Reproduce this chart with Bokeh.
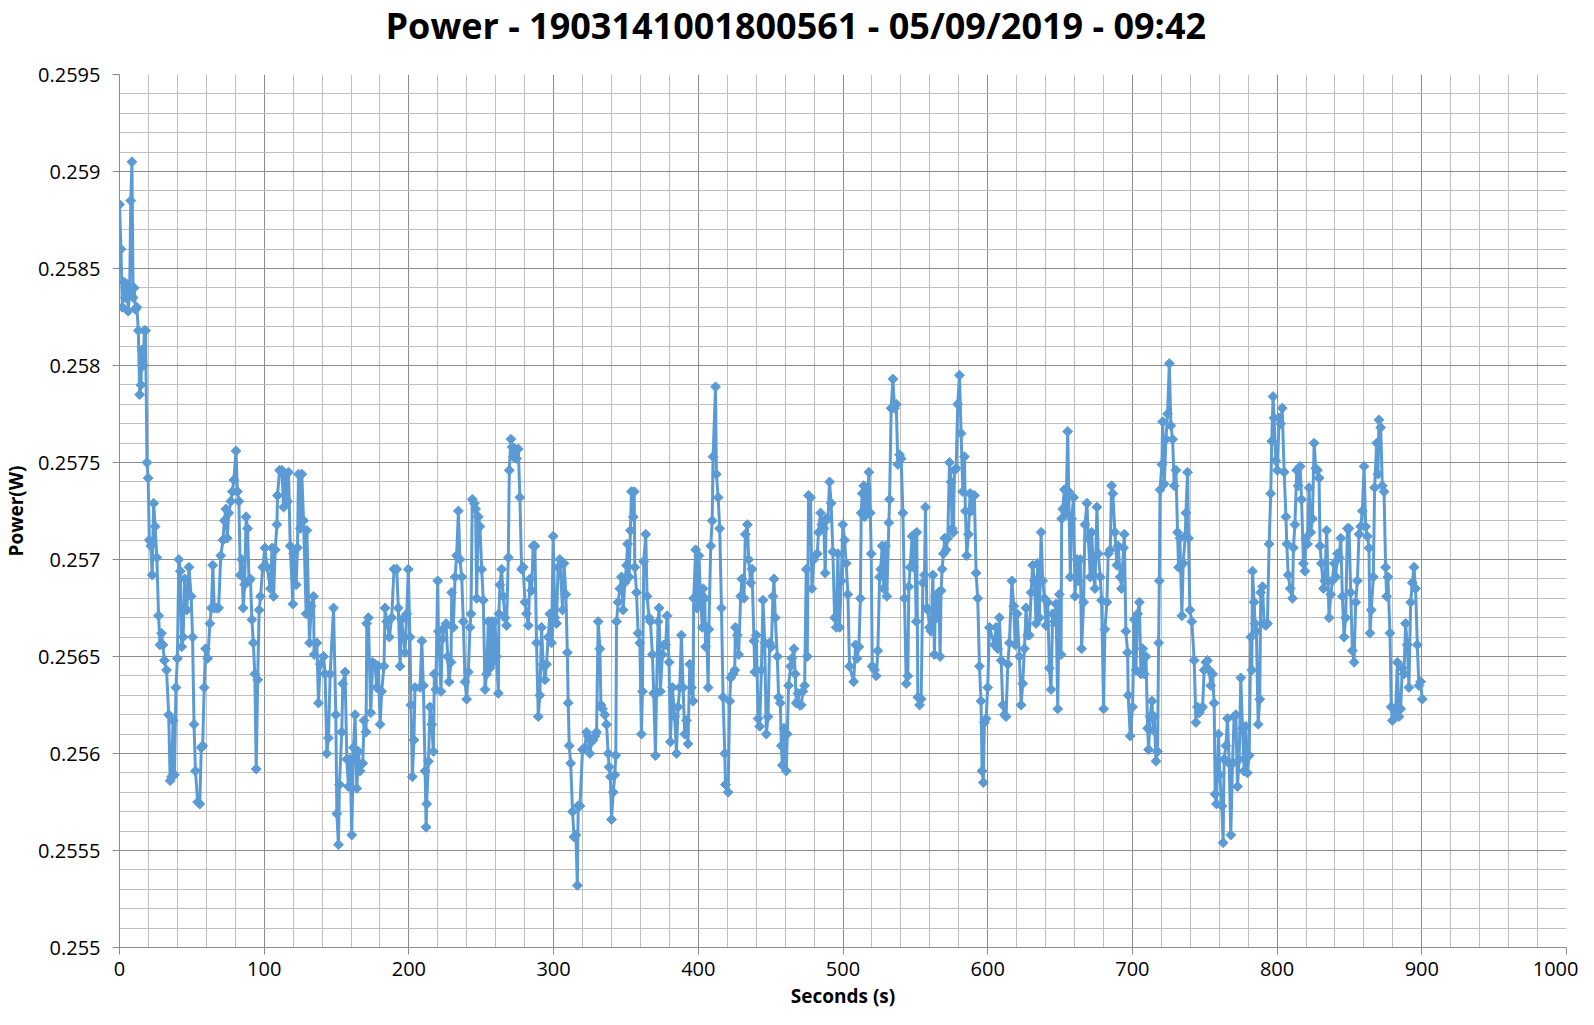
import math
from bokeh.plotting import figure
from bokeh.models import FixedTicker, CustomJSTickFormatter, Range1d, ColumnDataSource, Title
from bokeh.embed import file_html
from bokeh.resources import INLINE

# ---- data: (seconds, power W), one list per time window ----
seg_000 = [(0,0.25883),(1,0.2586),(2,0.2583),(3,0.25843),(4,0.25835),(5,0.25842),(6,0.25828),(7,0.25838),
           (7.8,0.25885),(8.6,0.25905),(9.4,0.25835),(10.2,0.2584),(11,0.25829),(12,0.2583),(13,0.25818),
           (14,0.25785),(14.8,0.2579),(15.6,0.25808),(16.4,0.258),(17.2,0.25818),(18,0.25818),(19,0.2575),
           (19.8,0.25742),(20.6,0.2571),(21.6,0.25707),(22.6,0.25692),(23.6,0.25729),(24.6,0.25717),
           (25.8,0.25701),(27,0.25671),(28,0.25656),(29,0.25662),(30,0.25656),(31,0.25648),(32.5,0.25643),
           (34,0.2562),(35,0.25586),(36,0.25588),(37,0.25617),(38,0.25589),(39,0.25634),(40,0.25649),
           (41,0.257),(42,0.25694),(43,0.25655),(44,0.2566),(45,0.2569),(46.5,0.25674),(48,0.25696),
           (49.5,0.25681),(50.5,0.2566),(51.5,0.25615),(52.5,0.25591),(54,0.25575),(55.5,0.25574),
           (56.5,0.25603),(57.5,0.25604),(58.5,0.25634),(59.5,0.25654),(61,0.25649),(62.5,0.25667),
           (63.5,0.25675),(64.5,0.25697),(65.5,0.25675),(67,0.25675),(68.5,0.25675),(70,0.25702),
           (71.5,0.2571),(72.5,0.2572),(73.5,0.25726),(74.5,0.25711),(75.5,0.25724),(77,0.2573),
           (78,0.25735),(79,0.25741),(80.5,0.25756),(81.5,0.25735),(82.5,0.2573),(83.5,0.25692),
           (84.5,0.257),(85.5,0.25675),(86.5,0.25687),(87.5,0.25722),(88.5,0.25716),(89.5,0.25689),
           (90.5,0.2569),(91.5,0.25669),(92.5,0.25657),(93.5,0.25641),(94.5,0.25592),(95.5,0.25638),
           (96.5,0.25674),(97.5,0.25681),(99,0.25696),(100.5,0.25706)]

seg_100 = [(102,0.25696),(104.2,0.25685),(105.4,0.25706),(106.5,0.25681),(107.6,0.25705),(108.8,0.25718),
           (109.2,0.25733),(110.6,0.25746),(112.2,0.25746),(113.4,0.25727),(114.5,0.25744),(116.2,0.2573),
           (116.8,0.25745),(118,0.25707),(119.8,0.25677),(120.3,0.25703),(122.1,0.25687),(123,0.25706),
           (123.7,0.25744),(124.9,0.25716),(126,0.25744),(127.2,0.2572),(129,0.25672),(129.5,0.25715),
           (131.3,0.25657),(132.5,0.25676),(134.1,0.25681),(134.5,0.25651),(136.4,0.25657),(137.5,0.25626),
           (138.7,0.25646),(141,0.2565),(142.1,0.25641),(143.3,0.256),(144.4,0.25608),(145.6,0.25641),
           (147.9,0.25675),(149.5,0.2562),(150.2,0.25569),(151.3,0.25553),(152,0.25584),(153.6,0.25611),
           (154.3,0.25636),(155.9,0.25642),(157.1,0.25597),(158.2,0.25583),(159.4,0.25597),(160.5,0.25558),
           (161.7,0.25603),(162.8,0.2562),(164,0.25582),(165.1,0.25601),(166.3,0.25591),(168.1,0.25595),
           (169,0.25617),(170.4,0.25611),(170.9,0.25667),(172,0.2567),(173.6,0.25621),(175,0.25647),
           (176.6,0.25646),(177.8,0.25634),(178.9,0.25645),(180.1,0.25615),(181.2,0.25632),(182.8,0.25645),
           (183.5,0.25675),(184.7,0.25668),(186.5,0.2566),(188.1,0.2567),(189.7,0.25695),(191.6,0.25695),
           (192.7,0.25675),(193.9,0.25645),(195,0.25669),(197.3,0.25652),(198.5,0.25672),(199.6,0.25695),
           (200.7,0.2566),(201.4,0.25625),(202.4,0.25588),(203.5,0.25607),(204.2,0.25634)]

seg_200 = [(207.7,0.25634),(208.9,0.25658),(210,0.25635),(211.2,0.25591),(211.9,0.25562),(212.3,0.25574),
           (213.5,0.25596),(214.6,0.25624),(215.8,0.25615),(216.9,0.25601),(217.6,0.25641),(218.6,0.25633),
           (219.9,0.25689),(220.4,0.25663),(222.2,0.25632),(223.1,0.25659),(224.5,0.25665),(225.7,0.25667),
           (226.8,0.2565),(227.7,0.25637),(229.1,0.25647),(229.6,0.25683),(230.7,0.25665),(231.9,0.25691),
           (233,0.25702),(234.2,0.25725),(235.3,0.257),(236.5,0.25691),(237.6,0.25668),(238.8,0.25637),
           (239.9,0.25628),(241.1,0.25642),(242.2,0.25665),(242.9,0.25672),(243.8,0.25731),(245.2,0.25729),
           (246.1,0.25726),(246.8,0.2568),(248,0.25722),(249.1,0.25717),(250.3,0.25695),(251.4,0.25679),
           (252.6,0.25633),(253.7,0.25641),(254.9,0.25668),(256,0.25644),(257.2,0.25668),(258.3,0.25647),
           (259.5,0.25668),(260.6,0.2565),(261.8,0.25631),(262.2,0.25672),(262.9,0.25687),(264.1,0.25695),
           (265.2,0.25681),(266.4,0.2567),(267.5,0.25666),(268.7,0.25701),(269.4,0.25746),(270.5,0.25762),
           (271.4,0.25758),(272.3,0.25753),(273.3,0.25757),(274.4,0.25752),(275.6,0.25757),(276.7,0.25732),
           (277.9,0.25695),(279,0.25696),(280.2,0.25678),(281.3,0.25672),(282.5,0.25666),(283.6,0.2569),
           (284.8,0.25684),(285.9,0.25707),(287.1,0.25707),(288.2,0.25657),(289.4,0.25619),(290.5,0.2563),
           (291.7,0.25665),(292.8,0.25646),(294,0.25638),(295.1,0.25646),(296.3,0.2566),(297.4,0.25672),
           (298.6,0.25657),(299.7,0.25712),(300.9,0.2567),(302,0.25667),(303.1,0.25696),(304.3,0.257)]

seg_300 = [(306.2,0.25674),(307.2,0.25698),(308.5,0.25682),(309.5,0.25652),(310.1,0.25626),(310.8,0.25604),
           (311.8,0.25595),(313.1,0.2557),(314.1,0.25557),(315.4,0.25558),(316.4,0.25532),(317,0.25573),
           (318.2,0.25573),(320,0.25602),(321.6,0.25603),(322.8,0.25611),(323.9,0.25609),(325.1,0.256),
           (326.2,0.25606),(327.4,0.25607),(328.5,0.25609),(329.7,0.25611),(330.8,0.25668),(332,0.25654),
           (332.7,0.25625),(333.8,0.25623),(335.4,0.2562),(336.6,0.25615),(337.7,0.256),(338.4,0.25593),
           (339.3,0.25588),(340,0.25566),(341.2,0.2558),(342.3,0.25589),(343,0.25599),(343.5,0.25668),
           (344.6,0.25678),(345.8,0.25685),(346.9,0.25691),(348.1,0.25674),(349.2,0.25688),(350.4,0.25697),
           (351.1,0.25708),(352.2,0.25691),(353.1,0.25715),(353.8,0.25735),(355,0.25722),(355.7,0.25735),
           (356.1,0.25696),(357.3,0.25683),(358.4,0.25662),(359.6,0.25657),(360.7,0.2561),(361.4,0.25632),
           (362.3,0.25699),(363.7,0.25713),(364.6,0.25681),(366,0.2567),(366.9,0.25668),(368.3,0.25651),
           (369.2,0.25631),(370.4,0.25599),(371.1,0.25631),(372.2,0.25668),(372.9,0.25675),(373.8,0.25632),
           (375.2,0.25651),(376.1,0.25656),(377.5,0.25656),(378.4,0.25671),(379.8,0.25647),(380.7,0.25606),
           (382.1,0.25634),(383.7,0.25619),(384.9,0.256),(386,0.25624),(387.2,0.25634),(388.3,0.25661),
           (389.5,0.25634),(390.6,0.2561),(391.8,0.25617),(392.9,0.25605),(394.1,0.25646),(395.2,0.25634),
           (396.4,0.25627),(396.8,0.2568),(398.2,0.25705),(399.1,0.25675),(400.5,0.25702),(401.6,0.25678),
           (402.8,0.25665)]

seg_400 = [(403.3,0.25685),(404.5,0.2568),(405,0.25655),(405.7,0.25665),(406.8,0.25634),(407.3,0.25664),
           (408.6,0.25707),(409.6,0.2572),(410.2,0.25753),(411.9,0.25789),(412.5,0.25744),(413.7,0.25732),
           (414.8,0.25716),(416,0.25675),(417.1,0.25629),(418.3,0.256),(418.8,0.25584),(420.6,0.2558),
           (421.7,0.25627),(422.4,0.25639),(424,0.25641),(425.2,0.25643),(425.6,0.25665),(427,0.25661),
           (427.9,0.25651),(429.3,0.25681),(430.2,0.2569),(431.6,0.2568),(432.5,0.25713),(433.9,0.25718),
           (434.8,0.257),(436.2,0.25688),(437.1,0.25695),(438.5,0.25658),(439,0.25642),(440.1,0.25661),
           (441.3,0.25618),(442.4,0.25614),(443.6,0.25643),(444.7,0.25679),(445.9,0.25657),(447,0.2561),
           (448.2,0.25619),(449.3,0.25657),(450.5,0.25655),(451.6,0.25681),(452.3,0.2569),(453.2,0.2567),
           (454.6,0.2565),(455.5,0.25629),(456.7,0.25626),(457.4,0.25604),(458.1,0.25594),(459.2,0.25613),
           (460.8,0.25591),(461.5,0.2561),(462.4,0.25635),(463.8,0.25645),(464.7,0.25649),(466.1,0.25654),
           (467,0.25641),(467.7,0.25626),(468.9,0.25631),(470,0.25625),(471.2,0.25625),(472.3,0.25632),
           (473.5,0.25635),(474.6,0.25695),(475.3,0.2565),(476.2,0.25733),(477.6,0.25732),(478.5,0.25685),
           (479.9,0.257),(480.8,0.25702),(482.2,0.25703),(483.1,0.25714),(484.5,0.25724),(485.4,0.25718),
           (486.8,0.25716),(487.7,0.25693),(488.4,0.25721),(489.6,0.25721),(490.7,0.2574),(491.8,0.25729),
           (493,0.25704),(494.2,0.2567),(495.3,0.25665),(496.5,0.25703),(497.6,0.25665),(498.8,0.25689),
           (499.9,0.25718),(501.1,0.2571),(502.2,0.25698),(503.4,0.25682),(504.5,0.25645)]

seg_500 = [(507.4,0.25637),(508.7,0.25656),(509.7,0.25649),(511,0.25655),(512,0.2568),(512.6,0.25724),
           (513.3,0.25734),(514.3,0.25738),(514.9,0.25722),(516.1,0.25736),(516.6,0.25724),(517.9,0.25745),
           (518.9,0.25724),(519.5,0.25703),(520.2,0.25645),(521.8,0.25643),(523,0.2564),(524.1,0.25653),
           (525.3,0.25691),(526,0.25695),(527.1,0.25707),(528.1,0.25685),(529.4,0.25707),(530.3,0.25681),
           (531.7,0.25719),(532.2,0.25731),(533.3,0.25778),(534.5,0.25793),(535.6,0.25778),(536.8,0.2578),
           (537.9,0.25749),(539.1,0.25754),(540.2,0.25752),(541.4,0.25724),(542.5,0.2568),(543.7,0.25636),
           (544.8,0.2564),(545.5,0.25686),(546.4,0.25696),(547.8,0.25712),(548.7,0.25696),(549.4,0.25713),
           (550.6,0.25668),(551,0.25714),(551.7,0.25629),(552.9,0.25625),(554,0.25628),(555.2,0.25688),
           (556.3,0.25692),(557,0.25727),(557.9,0.25675),(558.6,0.25674),(559.8,0.25665),(560.9,0.25663),
           (562.1,0.25692),(563.2,0.25651),(563.9,0.25681),(564.8,0.2567),(566.2,0.25683),(567.1,0.2565),
           (567.8,0.25684),(568.5,0.25695),(569.4,0.25703),(570.3,0.25711),(571.3,0.25705),(572.4,0.25711),
           (573.6,0.2575),(574.7,0.2574),(575.4,0.25716),(576.3,0.25714),(577,0.25746),(578.2,0.25747),
           (579.3,0.2578),(580.5,0.25795),(581.6,0.25765),(582.8,0.25735),(583.9,0.25753),(584.6,0.25725),
           (585.5,0.25702),(586.7,0.25713),(587.8,0.25734),(588.5,0.25725),(589.7,0.25733),(590.8,0.25733),
           (592,0.25693),(593.1,0.2568),(594.3,0.25645),(595.4,0.25627),(596.1,0.25591),(597,0.25585),
           (597.7,0.25616),(598.9,0.25618),(600,0.25634),(601.2,0.25665)]

seg_600 = [(604.7,0.25656),(605.8,0.25665),(607,0.25654),(608.1,0.2567),(609.3,0.25648),(610.4,0.25625),
           (611.6,0.2562),(612.7,0.25619),(613.9,0.25646),(615,0.25657),(616.7,0.25689),(618,0.25676),
           (619,0.25656),(620.3,0.25672),(621.9,0.2565),(623.1,0.25625),(624.2,0.25636),(625.4,0.25654),
           (626.5,0.25675),(627.7,0.25661),(628.8,0.25661),(630,0.25683),(631.1,0.25697),(632.3,0.25689),
           (633.4,0.25667),(634.6,0.25698),(635.7,0.2567),(636.9,0.25714),(638,0.25689),(639.2,0.2568),
           (640.3,0.25666),(641.5,0.25678),(642.6,0.25644),(643.8,0.25633),(644.9,0.25672),(646.1,0.25668),
           (647.2,0.25677),(648.4,0.25623),(649.5,0.25682),(650.7,0.25651),(651.1,0.25721),(651.8,0.25726),
           (653,0.25736),(654.1,0.25724),(655.3,0.25766),(656,0.25735),(657.1,0.25691),(658,0.25721),
           (659.4,0.25732),(660.3,0.25681),(661.7,0.257),(662.6,0.25689),(664,0.257),(664.9,0.25654),
           (666.3,0.25678),(667.2,0.25718),(668.6,0.25729),(669.5,0.25711),(670.9,0.25691),(671.8,0.25714),
           (673.2,0.25692),(674.1,0.25685),(675.5,0.25727),(676.4,0.25703),(677.8,0.25691),(678.7,0.25679),
           (680.1,0.25623),(681,0.25664),(682.4,0.25678),(683.3,0.25703),(684.7,0.25705),(685.6,0.25738),
           (686.5,0.25734),(687.9,0.25714),(689.3,0.25697),(690.2,0.25707),(691.6,0.25691),(692.5,0.25685),
           (693.9,0.25706),(694.4,0.25713),(695.5,0.25663),(696.7,0.25652),(697.1,0.2563),(698.5,0.25609),
           (700.1,0.25624),(701.3,0.25669),(702.4,0.25643)]

seg_700 = [(703.6,0.25672),(704.8,0.25678),(705.9,0.25641),(707.1,0.25654),(708.2,0.25641),(709.4,0.2565),
           (710.5,0.25613),(711.2,0.25602),(712.2,0.25619),(713.5,0.25627),(714.5,0.25612),(715.1,0.25619),
           (716.3,0.25596),(717.4,0.25601),(718.1,0.25657),(718.6,0.25689),(719.1,0.25736),(720.4,0.25749),
           (720.9,0.25771),(722,0.25739),(723.2,0.25762),(724.3,0.25775),(725.5,0.25801),(726.6,0.25769),
           (727.8,0.25762),(728.9,0.25738),(730.1,0.25746),(731.2,0.25714),(731.9,0.25696),(732.8,0.25711),
           (734.2,0.25671),(735.1,0.25698),(736.5,0.25712),(737,0.25724),(738.1,0.25745),(738.8,0.25711),
           (739.7,0.25674),(741.1,0.25668),(742.7,0.25648),(743.9,0.25616),(745,0.25624),(746.2,0.25621),
           (747.3,0.25623),(748.5,0.25624),(749.6,0.25643),(750.8,0.25647),(751.9,0.25648),(753.1,0.25643),
           (754.2,0.25635),(755.4,0.25641),(756.5,0.25626),(757.2,0.25579),(758.1,0.25574),(759.5,0.2561),
           (760.4,0.25589),(761.8,0.25573),(762.7,0.25554),(763.4,0.25597),(764.6,0.25604),(765.7,0.25618),
           (766.9,0.25595),(768,0.25558),(769.2,0.25595),(770.3,0.25619),(771.5,0.2562),(772.6,0.25583),
           (773.8,0.25597),(774.9,0.25639),(776.1,0.25613),(777.2,0.25591),(778.4,0.25614),(779.5,0.2559),
           (780.7,0.25599),(781.8,0.2566),(782.5,0.25643),(783,0.25694),(784.1,0.25678),(784.8,0.25667),
           (785.7,0.25663),(786.9,0.25615),(788,0.25628),(788.7,0.25683),(789.9,0.25686),(791,0.25667),
           (792.2,0.25666),(793.3,0.25667),(794.5,0.25708),(795.6,0.25734),(796.3,0.25761),(797.2,0.25784),
           (797.9,0.25773),(799.1,0.25751),(800.2,0.25746),(801.4,0.25773),(802.5,0.2577)]

seg_800 = [(803.5,0.25778),(804.9,0.25745),(806.1,0.25722),(806.7,0.25708),(807.7,0.25692),(809,0.25685),
           (810.6,0.2568),(811.3,0.25706),(812.3,0.25718),(813.6,0.25746),(814.6,0.25738),(815.9,0.25748),
           (816.9,0.25731),(818.2,0.25698),(819.2,0.25694),(819.8,0.25711),(821,0.25708),(822.1,0.25737),
           (823.3,0.25714),(824.4,0.25721),(825.6,0.2576),(826.7,0.25747),(827.9,0.25746),(829,0.25742),
           (829.7,0.25707),(830.6,0.25698),(832,0.25685),(832.9,0.25689),(834.3,0.25715),(835.2,0.25689),
           (835.9,0.2567),(837.1,0.25682),(838.2,0.25689),(839.4,0.25698),(840.5,0.25691),(841.7,0.25703),
           (842.8,0.25701),(844,0.25711),(845.1,0.25681),(846.3,0.2566),(847.4,0.2567),(848.6,0.25716),
           (849.7,0.25716),(850.9,0.25683),(852,0.25653),(853.2,0.25647),(854.3,0.25678),(855.5,0.25689),
           (856.6,0.25713),(857.8,0.25717),(858.9,0.25725),(860.1,0.25748),(861.2,0.25717),(862.4,0.25712),
           (863.5,0.25706),(864.2,0.25662),(865.1,0.25674),(866.5,0.25691),(867.4,0.25737),(868.8,0.2576),
           (869.7,0.25744),(870.4,0.25772),(871.6,0.25768),(872.7,0.25738),(873.9,0.25735),(875,0.25696),
           (875.7,0.25681),(876.6,0.25691),(878,0.25662),(878.9,0.25624),(879.6,0.25617),(880.8,0.25623),
           (881.9,0.25621),(883.1,0.25647),(884.2,0.25619),(885.4,0.25623),(886.5,0.25644),(887.7,0.25641),
           (888.8,0.25667),(890,0.25656),(891.1,0.25634),(892.3,0.25678),(893.4,0.25688),(894.6,0.25696),
           (895.7,0.25685),(896.9,0.25656),(898,0.25635),(899.2,0.25637),(900.3,0.25628)]

x_major_ticks = list(range(0, 1001, 100))
x_minor_ticks = list(range(0, 1001, 20))
y_major_ticks = [round(0.255 + 0.0005 * k, 4) for k in range(10)]
y_minor_ticks = [round(0.255 + 0.0001 * k, 4) for k in range(46)]

TITLE = "Power - 1903141001800561 - 05/09/2019 - 09:42"
X_LABEL = "Seconds (s)"
Y_LABEL = "Power(W)"

segments = [seg_000, seg_100, seg_200, seg_300, seg_400, seg_500, seg_600, seg_700, seg_800]
seconds = [t for seg in segments for (t, v) in seg]
power = [v for seg in segments for (t, v) in seg]
src = ColumnDataSource(dict(x=seconds, y=power))

BLUE = "#5B9BD5"
MAJOR = "#8C8C8C"
MINOR = "#BFBFBF"
FONT = "Open Sans"

W, H = 1578, 1017
LEFT, RIGHT, TOP, BOTTOM = 115, 12, 72, 70

p = figure(width=W, height=H, output_backend="svg", toolbar_location=None,
           x_range=Range1d(0, 1000), y_range=Range1d(0.255, 0.2595),
           min_border_left=LEFT, min_border_right=RIGHT, min_border_top=TOP, min_border_bottom=BOTTOM,
           background_fill_color="white", border_fill_color="white")
p.outline_line_color = None

# spacer between plot frame and title so the title sits near the top edge
p.add_layout(Title(text=" ", text_font_size="1px", standoff=20, text_color="white"), "above")

p.title.text = TITLE
p.title.text_font = FONT
p.title.text_font_size = "36px"
p.title.text_font_style = "bold"
p.title.text_color = "black"
p.title.align = "left"
p.title.vertical_align = "top"
p.title.offset = 266
p.title.standoff = 0

p.xaxis.ticker = FixedTicker(ticks=x_major_ticks, minor_ticks=x_minor_ticks)
p.yaxis.ticker = FixedTicker(ticks=y_major_ticks, minor_ticks=y_minor_ticks)
p.yaxis.formatter = CustomJSTickFormatter(code="return String(parseFloat(tick.toFixed(4)));")

for ax in (p.xaxis[0], p.yaxis[0]):
    ax.axis_line_color = MAJOR
    ax.major_tick_line_color = MAJOR
    ax.major_tick_out = 7
    ax.major_tick_in = 0
    ax.minor_tick_line_color = None
    ax.major_label_text_font = FONT
    ax.major_label_text_font_size = "20px"
    ax.major_label_text_color = "black"
    ax.axis_label_text_font = FONT
    ax.axis_label_text_font_size = "19px"
    ax.axis_label_text_font_style = "bold"
    ax.axis_label_text_color = "black"

p.xaxis.major_label_standoff = 7
p.xaxis.axis_label_standoff = 4
p.yaxis.major_label_standoff = 12
p.yaxis.axis_label_standoff = 6

p.xaxis.axis_label = X_LABEL
p.yaxis.axis_label = Y_LABEL

for g in (p.xgrid[0], p.ygrid[0]):
    g.grid_line_color = MAJOR
    g.grid_line_width = 1
    g.minor_grid_line_color = MINOR
    g.minor_grid_line_width = 1

p.line("x", "y", source=src, line_color=BLUE, line_width=3)
p.scatter("x", "y", source=src, marker="square", angle=math.pi / 4, size=7,
          fill_color=BLUE, line_color=BLUE)

open("out.html", "w").write(file_html(p, INLINE))
